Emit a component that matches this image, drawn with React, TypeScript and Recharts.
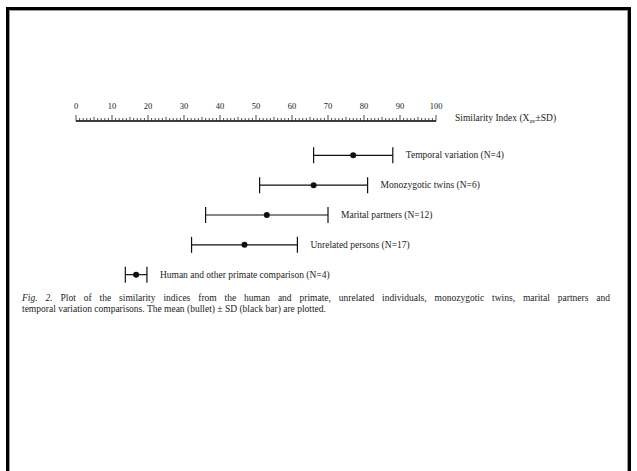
import React from 'react';
import { ScatterChart, Scatter, XAxis, YAxis, ErrorBar } from 'recharts';

const groups = [
  'Temporal variation (N=4)',
  'Monozygotic twins (N=6)',
  'Marital partners (N=12)',
  'Unrelated persons (N=17)',
  'Human and other primate comparison (N=4)',
];
const means = [77, 66, 53, 46.8, 16.7];
const sds = [11, 15, 17, 14.7, 3];
const axisTicks = Array.from({ length: 101 }, (_, i) => i);

// mean points with their SD, and a label anchored at the right end of each bar
const points = groups.map((name, i) => ({ name, row: i, x: means[i], sd: sds[i] }));
const labels = groups.map((name, i) => ({ name, row: i, x: means[i] + sds[i] }));

const FONT = '"Liberation Serif", "DejaVu Serif", serif';
const INK = '#222';

const RulerTick = (props: any) => {
  const { x, y, payload } = props;
  const v = payload.value;
  const major = v % 10 === 0;
  const h = major ? 6 : v % 5 === 0 ? 4 : 3;
  return (
    <g>
      <line x1={x} x2={x} y1={y} y2={y - h} stroke={INK} strokeWidth={0.8} />
      {major && (
        <text x={x} y={y - 12} textAnchor="middle" fontSize={8.5} fontFamily={FONT} fill={INK}>
          {v}
        </text>
      )}
    </g>
  );
};

const AxisTitle = (props: any) => {
  const { viewBox } = props;
  if (!viewBox) return null;
  return (
    <text x={viewBox.x + viewBox.width + 19} y={viewBox.y + viewBox.height} fontSize={9.5} fontFamily={FONT} fill={INK}>
      Similarity Index (X
      <tspan fontSize={6.5} dy={2}>av</tspan>
      <tspan dy={-2}>±SD)</tspan>
    </text>
  );
};

const Dot = (props: any) => <circle cx={props.cx} cy={props.cy} r={3} fill="#111" />;

const GroupLabel = (props: any) => (
  <text x={props.cx + 13} y={props.cy + 3} fontSize={9.5} fontFamily={FONT} fill={INK}>
    {props.payload.name}
  </text>
);

const captionStyle: React.CSSProperties = {
  fontFamily: FONT,
  fontSize: 9.5,
  lineHeight: '11px',
  color: INK,
  whiteSpace: 'nowrap',
};

export default function App() {
  return (
    <div style={{ position: 'absolute', left: 0, top: 0, width: 637, height: 471, background: '#fff', overflow: 'hidden' }}>
      <div
        style={{
          position: 'absolute',
          left: 6,
          top: 7,
          width: 619,
          height: 490,
          border: '3px solid #000',
          boxShadow: 'inset 0 0 0 1px #999',
        }}
      />
      <div style={{ position: 'absolute', left: 0, top: 0 }}>
        <ScatterChart width={637} height={300} margin={{ top: 101, right: 201, left: 76, bottom: 0 }}>
          <XAxis
            type="number"
            dataKey="x"
            orientation="top"
            domain={[0, 100]}
            ticks={axisTicks}
            interval={0}
            height={20}
            tickSize={0}
            tickMargin={0}
            tickLine={false}
            tick={<RulerTick />}
            axisLine={{ stroke: '#000', strokeWidth: 1.5 }}
            label={<AxisTitle />}
          />
          <YAxis type="number" dataKey="row" domain={[-1.15, 4.85]} reversed hide width={0} />
          <Scatter data={points} shape={<Dot />} isAnimationActive={false}>
            <ErrorBar dataKey="sd" direction="x" width={8} stroke="#111" strokeWidth={1.2} />
          </Scatter>
          <Scatter data={labels} shape={<GroupLabel />} isAnimationActive={false} />
        </ScatterChart>
      </div>
      <div style={{ position: 'absolute', left: 22, top: 293, width: 588 }}>
        <div style={{ ...captionStyle, whiteSpace: 'normal', textAlign: 'justify', textAlignLast: 'justify' }}>
          <i>Fig. 2.</i> Plot of the similarity indices from the human and primate, unrelated individuals, monozygotic
          twins, marital partners and
        </div>
        <div style={captionStyle}>
          temporal variation comparisons. The mean (bullet) ± SD (black bar) are plotted.
        </div>
      </div>
    </div>
  );
}
